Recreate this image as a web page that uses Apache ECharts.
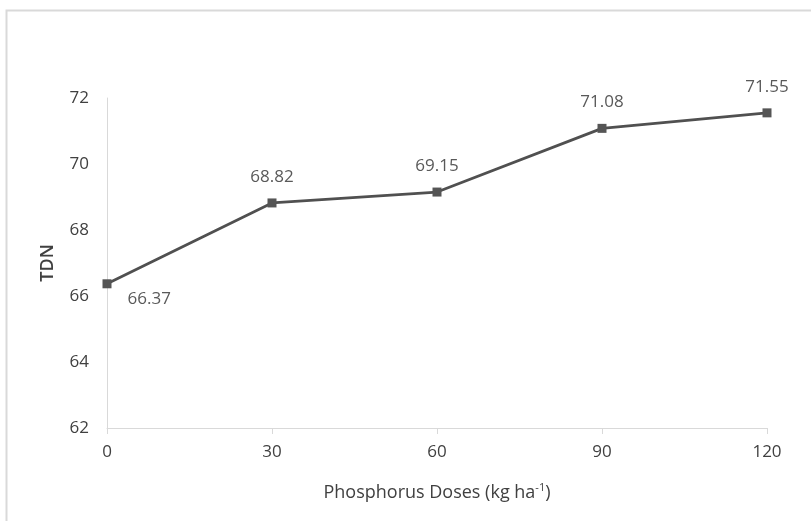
<!DOCTYPE html>
<html>
<head>
<meta charset="utf-8">
<script src="https://cdn.jsdelivr.net/npm/echarts@6/dist/echarts.min.js"></script>
<style>
html,body{margin:0;padding:0;background:#fff;}
#chart{width:811px;height:521px;}
</style>
</head>
<body>
<div id="chart"></div>
<script>
const categories = ['0', '30', '60', '90', '120'];
const tdnValues = [66.37, 68.82, 69.15, 71.08, 71.55];
const yTicks = [62, 64, 66, 68, 70, 72];
const xAxisName = 'Phosphorus Doses (kg ha{sup|-1})';
const yAxisName = 'TDN';

const FONT = 'Open Sans';
const chart = echarts.init(document.getElementById('chart'));

const seriesData = tdnValues.map(function (v, i) {
  if (i === 0) {
    return {
      value: v,
      label: { position: 'right', distance: 16, offset: [0, 15] }
    };
  }
  return v;
});

chart.setOption({
  animation: false,
  backgroundColor: '#fff',
  textStyle: { fontFamily: FONT },
  graphic: [{
    type: 'rect',
    left: 4, top: 8,
    shape: { width: 900, height: 600 },
    style: { fill: 'none', stroke: '#d9d9d9', lineWidth: 2 },
    silent: true
  }],
  grid: { left: 107, right: 44, top: 98, bottom: 93, containLabel: false },
  xAxis: {
    type: 'category',
    data: categories,
    boundaryGap: false,
    axisLine: { lineStyle: { color: '#d9d9d9', width: 1 } },
    axisTick: { show: true, length: 6, lineStyle: { color: '#d9d9d9' } },
    axisLabel: { color: '#404040', fontSize: 17, fontFamily: FONT, margin: 16 },
    splitLine: { show: false },
    name: xAxisName,
    nameLocation: 'middle',
    nameGap: 54,
    nameTextStyle: {
      color: '#404040', fontSize: 18, fontFamily: FONT,
      rich: { sup: { fontSize: 11, verticalAlign: 'top', padding: [0, 0, 10, 0], color: '#404040', fontFamily: FONT } }
    }
  },
  yAxis: {
    type: 'value',
    min: yTicks[0],
    max: yTicks[yTicks.length - 1],
    interval: 2,
    axisLine: { show: true, lineStyle: { color: '#d9d9d9', width: 1 } },
    axisTick: { show: false },
    axisLabel: { color: '#404040', fontSize: 17, fontFamily: FONT, margin: 18 },
    splitLine: { show: false },
    name: yAxisName,
    nameLocation: 'middle',
    nameGap: 50,
    nameRotate: 90,
    nameTextStyle: { color: '#404040', fontSize: 18, fontWeight: 600, fontFamily: FONT }
  },
  series: [{
    type: 'line',
    data: seriesData,
    symbol: 'rect',
    symbolSize: 9,
    lineStyle: { color: '#505050', width: 2.8 },
    itemStyle: { color: '#555555' },
    label: {
      show: true,
      position: 'top',
      distance: 13,
      color: '#595959',
      fontSize: 17,
      fontFamily: FONT
    }
  }]
});
</script>
</body>
</html>
